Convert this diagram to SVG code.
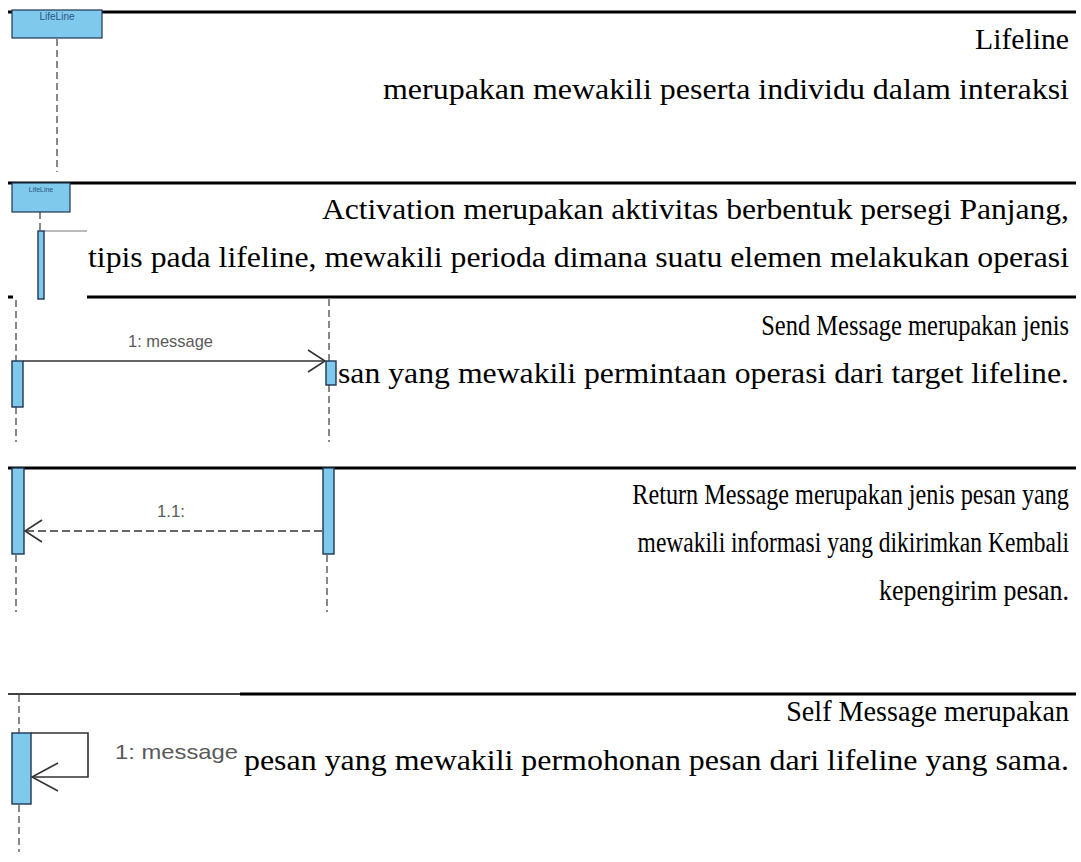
<svg xmlns="http://www.w3.org/2000/svg" width="1081" height="862" viewBox="0 0 1081 862">
  <style>
    .sep { stroke: #000; stroke-width: 3; fill: none; }
    .sep-thin { stroke: #000; stroke-width: 1.6; fill: none; }
    .life { stroke: #3a3a3a; stroke-width: 1.2; stroke-dasharray: 7 4; fill: none; }
    .bar { fill: #7ec9ec; stroke: #1e3552; stroke-width: 1.4; }
    .head { fill: #7ec9ec; stroke: #1e3552; stroke-width: 1.2; }
    .msg { stroke: #333; stroke-width: 1.6; fill: none; }
    .ret { stroke: #333; stroke-width: 1.6; fill: none; stroke-dasharray: 8 4; }
    .hname { font-family: "Liberation Sans", Arial, sans-serif; fill: #2a5584; text-anchor: middle; }
    .mlabel { font-family: "Liberation Sans", Arial, sans-serif; fill: #5a5a5a; }
    .desc { font-family: "Liberation Serif", "Times New Roman", serif; font-size: 30px; fill: #000; }
    .narrow { text-anchor: end; }
  </style>

  <rect width="1081" height="862" fill="#fff"/>

  <!-- section separators -->
  <g id="separators">
    <line class="sep" x1="8" y1="12" x2="1076" y2="12"/>
    <line class="sep" x1="8" y1="183" x2="1076" y2="183"/>
    <line class="sep" x1="87" y1="297" x2="1076" y2="297"/>
    <line class="sep" x1="8" y1="297" x2="13" y2="297"/>
    <line class="sep" x1="8" y1="468" x2="1076" y2="468"/>
    <line class="sep-thin" x1="8" y1="694" x2="240" y2="694"/>
    <line class="sep" x1="240" y1="694" x2="1076" y2="694"/>
  </g>

  <!-- lifeline symbol -->
  <g id="lifeline-node">
    <line class="life" x1="57" y1="39" x2="57" y2="172"/>
    <rect class="head" x="12" y="10" width="90" height="28"/>
    <text class="hname" x="57" y="20" font-size="10">LifeLine</text>
  </g>

  <!-- activation symbol -->
  <g id="activation-node">
    <line class="life" x1="40" y1="212" x2="40" y2="231"/>
    <rect class="head" x="12" y="183" width="58" height="29"/>
    <text class="hname" x="41" y="192" font-size="7">LifeLine</text>
    <line stroke="#777" stroke-width="1" x1="44" y1="231" x2="87" y2="231"/>
    <rect class="bar" x="38" y="231" width="6" height="68"/>
  </g>

  <!-- send message -->
  <g id="send-message-node">
    <line class="life" x1="16" y1="300" x2="16" y2="361"/>
    <line class="life" x1="16" y1="407" x2="16" y2="442"/>
    <line class="life" x1="329" y1="299" x2="329" y2="361"/>
    <line class="life" x1="329" y1="385" x2="329" y2="442"/>
    <rect class="bar" x="12" y="361" width="11" height="46"/>
    <rect class="bar" x="326" y="361" width="10" height="24"/>
  </g>

  <!-- return message -->
  <g id="return-message-node">
    <rect class="bar" x="12" y="468" width="12" height="86"/>
    <rect class="bar" x="323" y="468" width="11" height="86"/>
    <line class="life" x1="16" y1="555" x2="16" y2="612"/>
    <line class="life" x1="327" y1="555" x2="327" y2="612"/>
  </g>

  <!-- self message -->
  <g id="self-message-node">
    <line class="life" x1="19" y1="695" x2="19" y2="733"/>
    <line class="life" x1="19" y1="805" x2="19" y2="852"/>
    <rect class="bar" x="12" y="733" width="19" height="71"/>
  </g>

  <!-- messages between lifelines -->
  <g id="connectors">
    <line class="msg" x1="23" y1="361" x2="325" y2="361"/>
    <polyline class="msg" points="308,350 325,361 308,372"/>
    <text class="mlabel" x="128" y="347" font-size="17" textLength="85" lengthAdjust="spacingAndGlyphs">1: message</text>

    <line class="ret" x1="322" y1="531" x2="26" y2="531"/>
    <polyline class="msg" points="42,520 25,531 42,542"/>
    <text class="mlabel" x="157" y="517" font-size="17" textLength="28" lengthAdjust="spacingAndGlyphs">1.1:</text>

    <polyline class="msg" points="31,733 88,733 88,777 32,777"/>
    <polyline class="msg" points="58,763 32,777 58,791"/>
    <text class="mlabel" x="115" y="759" font-size="21" textLength="123" lengthAdjust="spacingAndGlyphs">1: message</text>
  </g>

  <!-- explanatory text, right-aligned at x=1069 -->
  <g id="descriptions">
    <text class="desc" x="975" y="49" textLength="94" lengthAdjust="spacingAndGlyphs">Lifeline</text>
    <text class="desc" x="383" y="99" textLength="686" lengthAdjust="spacingAndGlyphs">merupakan mewakili peserta individu dalam interaksi</text>
    <text class="desc" x="322" y="219" textLength="747" lengthAdjust="spacingAndGlyphs">Activation merupakan aktivitas berbentuk persegi Panjang,</text>
    <text class="desc" x="88" y="267" textLength="981" lengthAdjust="spacingAndGlyphs">tipis pada lifeline, mewakili perioda dimana suatu elemen melakukan operasi</text>
    <text class="desc narrow" transform="translate(1069,335) scale(0.816,1)">Send Message merupakan jenis</text>
    <text class="desc" x="338" y="383" textLength="731" lengthAdjust="spacingAndGlyphs">san yang mewakili permintaan operasi dari target lifeline.</text>
    <text class="desc narrow" transform="translate(1069,504) scale(0.808,1)">Return Message merupakan jenis pesan yang</text>
    <text class="desc narrow" transform="translate(1069,552) scale(0.785,1)">mewakili informasi yang dikirimkan Kembali</text>
    <text class="desc narrow" transform="translate(1069,600) scale(0.864,1)">kepengirim pesan.</text>
    <text class="desc narrow" transform="translate(1069,721) scale(0.938,1)">Self Message merupakan</text>
    <text class="desc" x="244" y="770" textLength="825" lengthAdjust="spacingAndGlyphs">pesan yang mewakili permohonan pesan dari lifeline yang sama.</text>
  </g>
</svg>
